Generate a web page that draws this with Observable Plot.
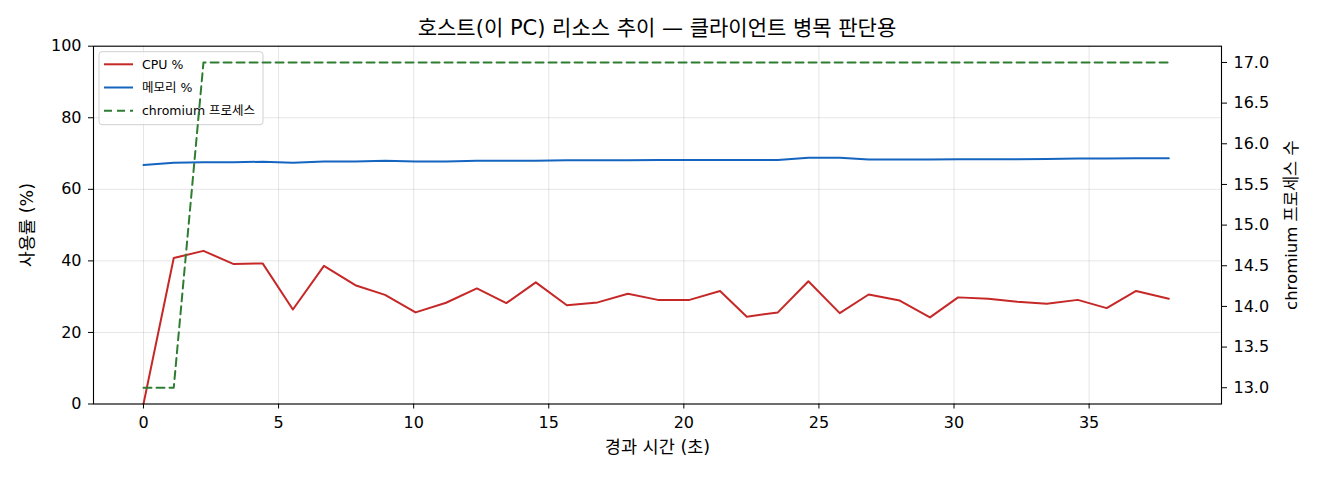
<!DOCTYPE html>
<html>
<head>
<meta charset="utf-8">
<script src="https://cdn.jsdelivr.net/npm/d3@7"></script>
<script src="https://cdn.jsdelivr.net/npm/@observablehq/plot@0.6"></script>
<style>
  body { margin: 0; background: #fff; }
  #wrap { width: 1320px; font-family: 'DejaVu Sans', 'Noto Sans CJK KR', sans-serif; color: #000; }
  #title { position: relative; height: 20px; z-index: 2; }
  #title span { position: absolute; left: 93px; right: 99px; top: 15px; text-align: center;
                font-size: 21px; line-height: 26px; white-space: nowrap; }
  #chart svg { background: transparent !important; }
</style>
</head>
<body>
<div id="wrap">
  <div id="title"><span>호스트(이 PC) 리소스 추이 — 클라이언트 병목 판단용</span></div>
  <div id="chart"></div>
</div>
<script>
// elapsed time (s)
const times = [0, 1.12, 2.22, 3.34, 4.41, 5.53, 6.68, 7.84, 8.94, 10.07, 11.2, 12.34, 13.43, 14.52, 15.67, 16.81, 17.93,
  19.04, 20.21, 21.34, 22.33, 23.48, 24.61, 25.77, 26.84, 27.99, 29.11, 30.15, 31.27, 32.34, 33.43, 34.58, 35.65, 36.74, 37.95];
// CPU %
const cpu = [0, 40.8, 42.8, 39.1, 39.3, 26.4, 38.6, 33.2, 30.5, 25.6, 28.3, 32.3, 28.2, 34.0, 27.6, 28.4, 30.8,
  29.1, 29.1, 31.6, 24.4, 25.6, 34.3, 25.4, 30.6, 28.9, 24.2, 29.8, 29.4, 28.6, 28.0, 29.1, 26.8, 31.6, 29.4];
// memory %
const mem = [66.8, 67.4, 67.6, 67.6, 67.7, 67.4, 67.8, 67.8, 68.0, 67.8, 67.8, 68.0, 68.0, 68.0, 68.1, 68.1, 68.1,
  68.2, 68.2, 68.2, 68.2, 68.2, 68.8, 68.8, 68.3, 68.3, 68.3, 68.4, 68.4, 68.4, 68.5, 68.6, 68.6, 68.7, 68.7];
// chromium process count
const procs = [13, 13, 17, 17, 17, 17, 17, 17, 17, 17, 17, 17, 17, 17, 17, 17, 17,
  17, 17, 17, 17, 17, 17, 17, 17, 17, 17, 17, 17, 17, 17, 17, 17, 17, 17];

const xTicks = [0, 5, 10, 15, 20, 25, 30, 35];
const yTicks = [0, 20, 40, 60, 80, 100];
const procTicks = [13.0, 13.5, 14.0, 14.5, 15.0, 15.5, 16.0, 16.5, 17.0];
const procDomain = [12.8, 17.2];

const seriesNames = ["CPU %", "메모리 %", "chromium 프로세스"];
const seriesColors = ["#c62828", "#1565c0", "#2e7d32"];

const rows = times.map((t, i) => ({t, cpu: cpu[i], mem: mem[i], procs: procs[i]}));
const toLeft = d3.scaleLinear(procDomain, [0, 100]);

function legendMark(index, scales, values, dimensions) {
  const dims = dimensions || {marginLeft: 93, marginTop: 25.7};
  const g = d3.create("svg:g")
    .attr("transform", `translate(${dims.marginLeft + 6},${dims.marginTop + 6})`)
    .attr("font-size", 12.5)
    .attr("text-anchor", "start");
  g.append("rect").attr("width", 164).attr("height", 73).attr("rx", 3)
    .attr("fill", "white").attr("fill-opacity", 0.8).attr("stroke", "#d0d0d0");
  seriesNames.forEach((name, i) => {
    const y = 12.6 + i * 23.2;
    g.append("line").attr("x1", 5).attr("x2", 34).attr("y1", y).attr("y2", y)
      .attr("stroke", seriesColors[i]).attr("stroke-width", 2)
      .attr("stroke-dasharray", i === 2 ? "8,5" : null);
    g.append("text").attr("x", 43).attr("y", y).attr("dy", "0.35em")
      .attr("text-anchor", "start").attr("fill", "#000").text(name);
  });
  return g.node();
}

const chart = Plot.plot({
  width: 1320,
  height: 460,
  marginLeft: 93,
  marginRight: 99,
  marginTop: 25.7,
  marginBottom: 76.5,
  style: {fontFamily: "'DejaVu Sans', 'Noto Sans CJK KR', sans-serif", fontSize: "16px", color: "#000", background: "transparent", overflow: "visible"},
  x: {domain: [-1.85, 39.9]},
  y: {domain: [0, 100]},
  marks: [
    Plot.gridX({ticks: xTicks, stroke: "#000", strokeOpacity: 0.1}),
    Plot.gridY({ticks: yTicks, stroke: "#000", strokeOpacity: 0.1}),
    Plot.line(rows, {x: "t", y: "cpu", stroke: seriesColors[0], strokeWidth: 2}),
    Plot.line(rows, {x: "t", y: "mem", stroke: seriesColors[1], strokeWidth: 2}),
    legendMark,
    Plot.line(rows, {x: "t", y: (d) => toLeft(d.procs), stroke: seriesColors[2], strokeWidth: 2, strokeDasharray: "8,5"}),
    Plot.frame({stroke: "#000", strokeWidth: 1.1}),
    Plot.axisX({ticks: xTicks, tickSize: 5, tickPadding: 8, label: null, stroke: "#000"}),
    Plot.axisY({anchor: "left", ticks: yTicks, tickSize: 5, tickPadding: 7, label: null, stroke: "#000"}),
    Plot.axisY({anchor: "right", ticks: procTicks.map((v) => toLeft(v)), tickFormat: (v) => toLeft.invert(v).toFixed(1),
      tickSize: 5, tickPadding: 7, label: null, stroke: "#000"}),
    Plot.text(["경과 시간 (초)"], {frameAnchor: "bottom", dy: 48.5, fontSize: 17.5, fill: "#000", textAnchor: "middle"}),
    Plot.text(["사용률 (%)"], {frameAnchor: "left", dx: -66, rotate: -90, fontSize: 17.5, fill: "#000", textAnchor: "middle"}),
    Plot.text(["chromium 프로세스 수"], {frameAnchor: "right", dx: 70.5, rotate: -90, fontSize: 16.5, fill: "#000", textAnchor: "middle"})
  ]
});
document.getElementById("chart").appendChild(chart);
</script>
</body>
</html>
